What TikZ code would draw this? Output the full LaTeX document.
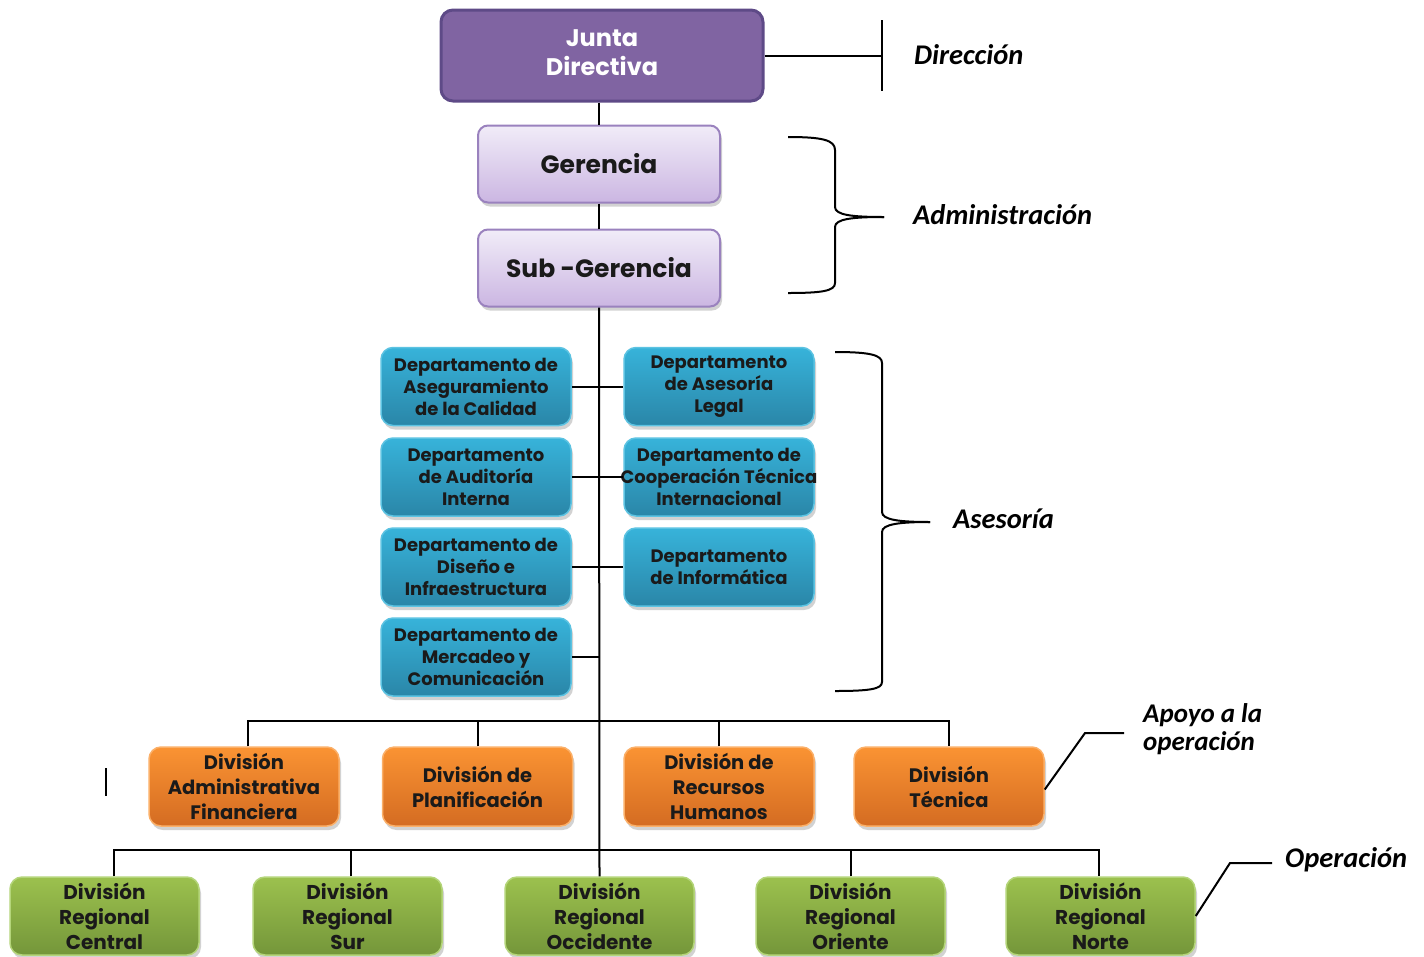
\documentclass[tikz,border=0pt]{standalone}
\usepackage{fontspec}
\setmainfont{Poppins}
\newfontfamily\lblfont{Carlito}
\usetikzlibrary{shadows}
\definecolor{jdfill}{HTML}{8064A2}
\definecolor{jdline}{HTML}{5E4A87}
\definecolor{lavtop}{HTML}{F1ECF8}
\definecolor{lavbot}{HTML}{CBB6E2}
\definecolor{lavline}{HTML}{9A82BE}
\definecolor{bluetop}{HTML}{37B3DA}
\definecolor{bluebot}{HTML}{2A86A8}
\definecolor{blueline}{HTML}{5CC3E2}
\definecolor{orgtop}{HTML}{FA9333}
\definecolor{orgbot}{HTML}{D46C22}
\definecolor{orgline}{HTML}{FBB069}
\definecolor{grntop}{HTML}{9CC14E}
\definecolor{grnbot}{HTML}{74963A}
\definecolor{grnline}{HTML}{B4D57A}
\definecolor{txt}{HTML}{1A1A1A}
\tikzset{
  x=1pt,y=-1pt,
  conn/.style={line width=2pt,black},
  shad/.style={drop shadow={opacity=0.35,shadow xshift=2pt,shadow yshift=-4pt}},
  jdbox/.style={draw=jdline,line width=3pt,fill=jdfill,rounded corners=12pt,
     minimum width=322pt,minimum height=91pt,align=center,text=white,
     font=\fontsize{24}{29}\selectfont\bfseries},
  lavbox/.style={draw=lavline,line width=2pt,top color=lavtop,bottom color=lavbot,
     rounded corners=10pt,minimum width=242pt,minimum height=77pt,shad,text=txt,
     font=\fontsize{25}{30}\selectfont\bfseries},
  bluebox/.style={draw=blueline,line width=1.5pt,top color=bluetop,bottom color=bluebot,
     rounded corners=12pt,minimum width=190pt,minimum height=78pt,shad,align=center,
     inner sep=0pt,text=txt,font=\fontsize{18}{22}\selectfont\bfseries},
  orgbox/.style={draw=orgline,line width=1.5pt,top color=orgtop,bottom color=orgbot,
     rounded corners=12pt,minimum width=190pt,minimum height=79pt,shad,align=center,
     inner sep=0pt,text=txt,font=\fontsize{19.5}{25}\selectfont\bfseries},
  grnbox/.style={draw=grnline,line width=1.5pt,top color=grntop,bottom color=grnbot,
     rounded corners=12pt,minimum width=189pt,minimum height=78pt,shad,align=center,
     inner sep=0pt,text=txt,font=\fontsize{20}{25}\selectfont\bfseries},
  lbl/.style={font=\lblfont\fontsize{28.5}{25}\selectfont\bfseries\itshape,anchor=west,inner sep=0pt,align=left},
  lbltwo/.style={lbl,font=\lblfont\fontsize{27}{28}\selectfont\bfseries\itshape},
}
\begin{document}
\begin{tikzpicture}
\useasboundingbox[fill=white] (0,0) rectangle (1424,956);
% top
\node[jdbox] (jd) at (602,55.5) {\raisebox{3pt}{\begin{tabular}{@{}c@{}}Junta\\Directiva\end{tabular}}};
\node[lavbox] (ger) at (599,164) {Gerencia};
\node[lavbox] (sub) at (599,268) {Sub -Gerencia};
% blue
\node[bluebox] (b1l) at (476,386.5) {Departamento de\\Aseguramiento\\de la Calidad};
\node[bluebox] (b2l) at (476,477) {Departamento\\de Auditoría\\Interna};
\node[bluebox] (b3l) at (476,567) {Departamento de\\Diseño e\\Infraestructura};
\node[bluebox] (b4l) at (476,657) {Departamento de\\Mercadeo y\\Comunicación};
\node[bluebox] (b1r) at (719,386.5) {Departamento\\de Asesoría\\Legal};
\node[bluebox] (b2r) at (719,477) {Departamento de\\\makebox[186pt][c]{Cooperación Técnica}\\Internacional};
\node[bluebox] (b3r) at (719,567) {Departamento\\de Informática};
% orange
\node[orgbox] (o1) at (244,786.5) {División\\Administrativa\\Financiera};
\node[orgbox] (o2) at (477.5,786.5) {División de\\Planificación};
\node[orgbox] (o3) at (719,786.5) {División de\\Recursos\\Humanos};
\node[orgbox] (o4) at (949,786.5) {División\\Técnica};
% green
\node[grnbox] (g1) at (104.5,916) {División\\Regional\\Central};
\node[grnbox] (g2) at (347.5,916) {División\\Regional\\Sur};
\node[grnbox] (g3) at (599.5,916) {División\\Regional\\Occidente};
\node[grnbox] (g4) at (850.5,916) {División\\Regional\\Oriente};
\node[grnbox] (g5) at (1100.5,916) {División\\Regional\\Norte};
% connectors
\draw[conn] (ger.north |- jd.south) -- (ger.north);
\draw[conn] (ger.south) -- (sub.north);
\draw[conn] (sub.south) -- (g3.north);
\draw[conn] (b1l.east) -- (b1r.west);
\draw[conn] (b2l.east) -- (b2r.west);
\draw[conn] (b3l.east) -- (b3r.west);
\draw[conn] (b4l.east) -- (b4l.east -| sub.south);
\draw[conn] (o1.north) ++(4,0) -- ++(0,-25) -| (o4.north);
\draw[conn] (o2.north) -- ++(0,-25);
\draw[conn] (o3.north) -- ++(0,-25);
\draw[conn] (g1.north) ++(9.5,0) -- ++(0,-26) -| ([xshift=-1.5pt]g5.north);
\draw[conn] (g2.north) ++(3.5,0) -- ++(0,-26);
\draw[conn] (g4.north) -- ++(0,-26);
% labels
\coordinate (dirbar) at (882,55.5);
\draw[conn] (jd.east) -- (dirbar);
\draw[conn] (882,20) -- (882,91);
\node[lbl] (dir) at (914,55) {Dirección};
\draw[conn] (788,137) .. controls (822,137) and (835,140) .. (835,150) -- (835,207)
  .. controls (835,215) and (852,217) .. (884,217);
\draw[conn] (884,217) .. controls (852,217) and (835,219) .. (835,227) -- (835,283)
  .. controls (835,291) and (822,293) .. (788,293);
\node[lbl] (adm) at (913,215) {Administración};
\draw[conn] (835,352) .. controls (870,352) and (882,355) .. (882,363) -- (882,512)
  .. controls (882,520) and (900,522) .. (930,522);
\draw[conn] (930,522) .. controls (900,522) and (882,524) .. (882,532) -- (882,682)
  .. controls (882,689) and (870,691) .. (835,691);
\node[lbl] (ase) at (953,519) {Asesoría};
\coordinate (ap1) at (1085,733);
\coordinate (ap2) at (1124,733);
\draw[conn] (o4.east) ++(0,3) -- (ap1) -- (ap2);
\node[lbltwo] (apo) at (1143,729) {Apoyo a la\\operación};
\coordinate (op1) at (1230,863);
\coordinate (op2) at (1272,863);
\draw[conn] (g5.east) -- (op1) -- (op2);
\node[lbl] (ope) at (1285,860) {Operación};
\draw[conn] (106,768) -- (106,796);
\end{tikzpicture}
\end{document}
